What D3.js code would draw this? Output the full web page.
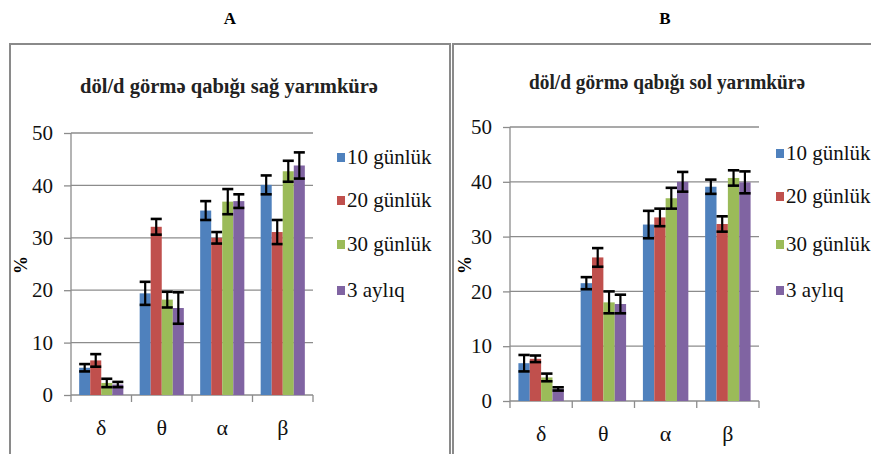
<!DOCTYPE html>
<html>
<head>
<meta charset="utf-8">
<script src="https://cdn.jsdelivr.net/npm/d3@7"></script>
<style>
  body { margin: 0; background: #ffffff; }
  svg text { font-family: "Times New Roman", "Liberation Serif", Tinos, serif !important; }
</style>
</head>
<body>
<div id="figure"></div>
<script>
// categories, series, ticks
const categories = ["δ", "θ", "α", "β"];
const seriesNames = ["10 günlük", "20 günlük", "30 günlük", "3 aylıq"];
const seriesColors = ["#4f81bd", "#c0504d", "#9bbb59", "#8064a2"];
const yTicks = [0, 10, 20, 30, 40, 50];

// panel A: sağ yarımkürə
const meanA10 = [5.2, 19.4, 35.2, 40.1];
const meanA20 = [6.6, 32.1, 30.0, 31.1];
const meanA30 = [2.3, 18.2, 36.9, 42.7];
const meanA3m = [2.0, 16.6, 37.0, 43.8];
const errA10 = [0.7, 2.2, 1.8, 1.8];
const errA20 = [1.2, 1.5, 1.1, 2.3];
const errA30 = [0.8, 1.5, 2.4, 2.0];
const errA3m = [0.5, 3.0, 1.3, 2.5];

// panel B: sol yarımkürə
const meanB10 = [6.9, 21.5, 32.2, 39.1];
const meanB20 = [7.7, 26.2, 33.5, 32.3];
const meanB30 = [4.3, 18.0, 37.0, 40.7];
const meanB3m = [2.2, 17.7, 40.0, 39.9];
const errB10 = [1.5, 1.1, 2.5, 1.3];
const errB20 = [0.6, 1.7, 1.6, 1.4];
const errB30 = [0.7, 2.0, 1.9, 1.4];
const errB3m = [0.3, 1.7, 1.8, 2.0];

const grid = "#8c8c8c";
const svg = d3.select("#figure").append("svg")
    .attr("width", 871)
    .attr("height", 454);

function txt(parent, size, bold) {
    return parent.append("text")
        .attr("font-size", size)
        .attr("font-weight", bold ? "bold" : "normal");
}

function panel(p) {
    svg.append("rect")
        .attr("x", p.frame[0]).attr("y", p.frame[1])
        .attr("width", p.frame[2]).attr("height", p.frame[3])
        .attr("fill", "none")
        .attr("stroke", "#8a8a8a")
        .attr("stroke-width", 2);

    txt(svg, 17, true)
        .attr("x", p.letterX).attr("y", 24)
        .attr("text-anchor", "middle")
        .text(p.letter);

    txt(svg, 20, true)
        .attr("x", p.titleX).attr("y", p.titleY)
        .attr("text-anchor", "middle")
        .attr("fill", "#222")
        .attr("textLength", p.titleW)
        .attr("lengthAdjust", "spacingAndGlyphs")
        .text(p.title);

    const x = d3.scaleBand().domain(categories).range([p.x0, p.x1]);
    const y = d3.scaleLinear().domain([0, 50]).range([p.y0, p.y50]);
    const gap = x.bandwidth() * 0.135;
    const xs = d3.scaleBand().domain(d3.range(seriesNames.length))
        .range([gap, x.bandwidth() - gap]);

    svg.append("g")
        .selectAll("line")
        .data(yTicks.filter(d => d > 0))
        .join("line")
        .attr("x1", p.x0).attr("x2", p.x1)
        .attr("y1", d => y(d)).attr("y2", d => y(d))
        .attr("stroke", grid)
        .attr("stroke-width", 1.3);

    const yAxis = svg.append("g")
        .attr("transform", `translate(${p.x0},0)`)
        .call(d3.axisLeft(y).tickValues(yTicks).tickSize(7).tickPadding(11));
    yAxis.attr("font-family", null).attr("font-size", 21);
    yAxis.select(".domain").attr("stroke", grid).attr("stroke-width", 1.3)
        .attr("d", `M0,${p.y50}V${p.y0}`);
    yAxis.selectAll(".tick line").attr("stroke", grid).attr("stroke-width", 1.3);
    yAxis.selectAll(".tick text").attr("fill", "#111");

    const xAxis = svg.append("g")
        .attr("transform", `translate(0,${p.y0})`)
        .call(d3.axisBottom(x).tickSize(0).tickPadding(p.catPad));
    xAxis.attr("font-family", null).attr("font-size", 22);
    xAxis.select(".domain").attr("stroke", grid).attr("stroke-width", 1.3)
        .attr("d", `M${p.x0},0H${p.x1}`);
    xAxis.selectAll(".tick text").attr("fill", "#111");

    svg.append("g")
        .selectAll("line")
        .data(categories.map(c => x(c)).concat([p.x1]))
        .join("line")
        .attr("x1", d => d).attr("x2", d => d)
        .attr("y1", p.y0).attr("y2", p.y0 + 7)
        .attr("stroke", grid)
        .attr("stroke-width", 1.3);

    txt(svg, 18, true)
        .attr("transform", `translate(${p.labelX},${p.labelY}) rotate(-90)`)
        .attr("text-anchor", "middle")
        .text("%");

    p.means.forEach((vals, s) => {
        const g = svg.append("g");
        const data = vals.map((v, i) => ({ cat: categories[i], v: v, e: p.errs[s][i] }));
        const cx = d => x(d.cat) + xs(s) + xs.bandwidth() / 2;
        const half = xs.bandwidth() / 2;

        g.selectAll("rect")
            .data(data)
            .join("rect")
            .attr("x", d => x(d.cat) + xs(s))
            .attr("y", d => y(d.v))
            .attr("width", xs.bandwidth())
            .attr("height", d => p.y0 - y(d.v))
            .attr("fill", seriesColors[s]);

        g.selectAll("line.stem")
            .data(data)
            .join("line")
            .attr("class", "stem")
            .attr("x1", cx).attr("x2", cx)
            .attr("y1", d => y(d.v - d.e)).attr("y2", d => y(d.v + d.e))
            .attr("stroke", "#000").attr("stroke-width", 2.2);

        [1, -1].forEach(sign => {
            g.selectAll("line.cap" + (sign > 0 ? "T" : "B"))
                .data(data)
                .join("line")
                .attr("class", "cap" + (sign > 0 ? "T" : "B"))
                .attr("x1", d => cx(d) - half).attr("x2", d => cx(d) + half)
                .attr("y1", d => y(d.v + sign * d.e)).attr("y2", d => y(d.v + sign * d.e))
                .attr("stroke", "#000").attr("stroke-width", 2.6);
        });
    });

    seriesNames.forEach((name, i) => {
        const ly = p.legY[i];
        svg.append("rect")
            .attr("x", p.legX).attr("y", ly - 5)
            .attr("width", 8).attr("height", 9)
            .attr("fill", seriesColors[i]);
        txt(svg, 21, false)
            .attr("x", p.legX + 10).attr("y", ly + 6)
            .attr("fill", "#111")
            .text(name);
    });
}

panel({
    letter: "A", letterX: 230,
    frame: [10, 44, 440, 430],
    title: "döl/d görmə qabığı sağ yarımkürə", titleX: 229, titleY: 93, titleW: 298,
    x0: 71, x1: 313, y0: 395, y50: 133, catPad: 24,
    labelX: 27, labelY: 265,
    legX: 337, legY: [158, 201, 245, 291],
    means: [meanA10, meanA20, meanA30, meanA3m],
    errs: [errA10, errA20, errA30, errA3m]
});

panel({
    letter: "B", letterX: 665,
    frame: [453, 44, 430, 430],
    title: "döl/d görmə qabığı sol yarımkürə", titleX: 667, titleY: 89, titleW: 276,
    x0: 510, x1: 759, y0: 401, y50: 127, catPad: 24,
    labelX: 471, labelY: 265,
    legX: 776, legY: [154, 197, 245, 291],
    means: [meanB10, meanB20, meanB30, meanB3m],
    errs: [errB10, errB20, errB30, errB3m]
});
</script>
</body>
</html>
